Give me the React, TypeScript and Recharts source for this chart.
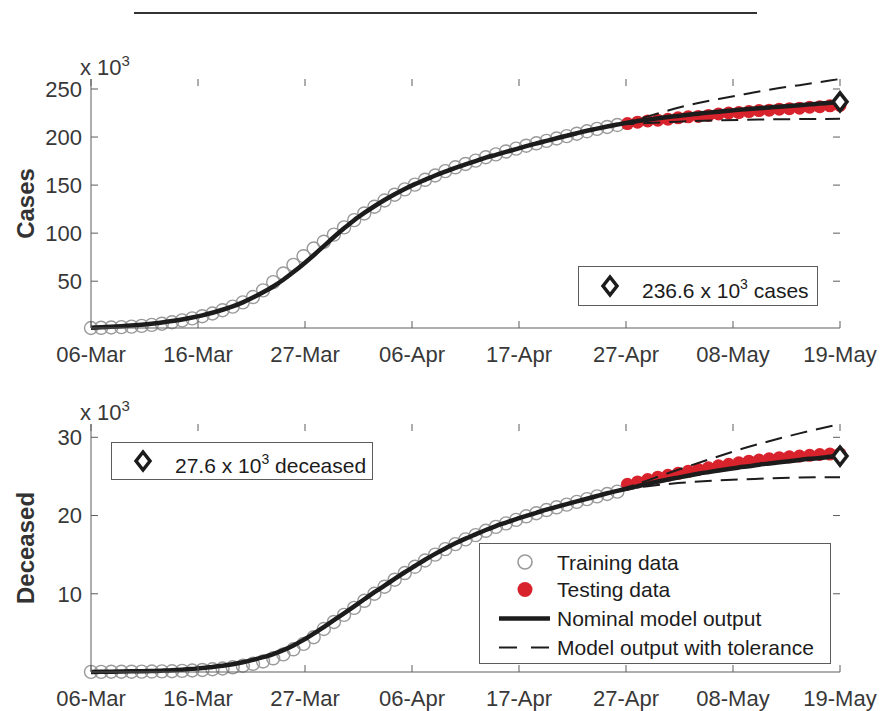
import { ComposedChart, Legend, Line, Scatter, XAxis, YAxis } from "recharts";

// x axis: days since 06-Mar (0 .. 74 = 19-May)
const xTickLabels = ["06-Mar", "16-Mar", "27-Mar", "06-Apr", "17-Apr", "27-Apr", "08-May", "19-May"];
const casesYTicks = [50, 100, 150, 200, 250];
const deathsYTicks = [10, 20, 30];

// cases, x 10^3
const casesTrain = [
  1.3, 1.5, 1.8, 2.2, 2.7, 3.5, 4.5, 5.8, 7.3, 9.2, 11.3, 13.6, 16.4, 19.8, 23.5, 28.0, 33.5, 40.5, 49.0, 58.0,
  67.0, 76.0, 84.0, 91.0, 98.5, 106.0, 113.5, 120.5, 127.5, 134.0, 140.0, 145.5, 150.5, 155.5, 160.0, 164.5,
  168.5, 172.0, 175.5, 179.0, 182.0, 185.0, 188.0, 191.0, 193.5, 196.0, 198.5, 201.0, 203.5, 206.0, 208.5,
  210.5, 212.5
];
const casesTest = [
  214.0, 215.5, 216.8, 217.5, 218.5, 220.0, 221.0, 221.5, 222.5, 224.0, 225.0, 225.5, 226.5, 227.5, 228.0,
  229.0, 229.5, 230.0, 231.0, 231.5, 232.5, 233.0
];
const casesModel = [
  1.6, 2.0, 2.5, 3.1, 3.8, 4.7, 5.8, 7.0, 8.5, 10.2, 12.2, 14.5, 17.2, 20.3, 23.8, 28.0, 33.0, 38.5, 44.5, 51.5,
  59.5, 68.0, 77.0, 86.5, 96.0, 105.0, 113.5, 121.0, 128.0, 134.5, 140.5, 146.0, 151.0, 155.5, 160.0, 164.0,
  168.0, 171.5, 175.0, 178.5, 181.5, 184.5, 187.5, 190.5, 193.3, 196.0, 198.7, 201.4, 204.0, 206.5, 208.8,
  211.0, 213.0, 215.0, 216.6, 218.1, 219.5, 220.8, 222.0, 223.2, 224.3, 225.4, 226.4, 227.4, 228.3, 229.2,
  230.0, 230.8, 231.6, 232.4, 233.2, 234.0, 234.8, 235.7, 236.6
];
const casesUpperDays = [52, 54, 56, 58, 60, 62, 64, 66, 68, 70, 72, 74];
const casesUpper = [213.0, 218.5, 224.5, 230.5, 235.5, 239.5, 243.5, 247.5, 251.0, 254.0, 257.2, 260.4];
const casesLowerDays = [52, 55, 58, 62, 66, 70, 74];
const casesLower = [213.0, 214.6, 216.0, 217.3, 218.2, 218.7, 219.0];
const casesFinal = 236.6;

// deceased, x 10^3
const deathsTrain = [
  0.01, 0.02, 0.03, 0.03, 0.04, 0.05, 0.06, 0.08, 0.1, 0.14, 0.19, 0.26, 0.35, 0.45, 0.6, 0.8, 1.05, 1.35, 1.75,
  2.25, 2.9, 3.6, 4.45, 5.5, 6.4, 7.3, 8.2, 9.1, 10.0, 10.9, 11.8, 12.65, 13.45, 14.25, 15.0, 15.7, 16.35,
  16.95, 17.5, 18.05, 18.55, 19.0, 19.45, 19.9, 20.3, 20.7, 21.05, 21.4, 21.75, 22.1, 22.45, 22.75, 23.05
];
const deathsTest = [
  24.0, 24.3, 24.6, 24.9, 25.15, 25.4, 25.65, 25.9, 26.1, 26.35, 26.55, 26.75, 26.95, 27.1, 27.25, 27.4, 27.5,
  27.6, 27.7, 27.8, 27.85, 27.9
];
const deathsModel = [
  0.0, 0.02, 0.04, 0.06, 0.08, 0.1, 0.13, 0.17, 0.22, 0.3, 0.4, 0.5, 0.65, 0.8, 1.0, 1.25, 1.55, 1.9, 2.3, 2.8,
  3.4, 4.1, 4.9, 5.75, 6.62, 7.5, 8.4, 9.3, 10.2, 11.05, 11.9, 12.75, 13.55, 14.35, 15.1, 15.8, 16.45, 17.05,
  17.6, 18.15, 18.65, 19.1, 19.55, 19.95, 20.35, 20.75, 21.1, 21.45, 21.8, 22.15, 22.5, 22.85, 23.15, 23.45,
  23.75, 24.05, 24.35, 24.6, 24.85, 25.1, 25.35, 25.55, 25.75, 25.95, 26.15, 26.3, 26.5, 26.65, 26.8, 26.95,
  27.1, 27.25, 27.35, 27.5, 27.6
];
const deathsUpperDays = [52, 55, 58, 61, 64, 67, 70, 74];
const deathsUpper = [23.15, 24.5, 25.85, 27.15, 28.4, 29.5, 30.5, 31.7];
const deathsLowerDays = [52, 55, 58, 62, 66, 70, 74];
const deathsLower = [23.15, 23.75, 24.15, 24.5, 24.7, 24.85, 24.9];
const deathsFinal = 27.6;

const LAST_DAY = 74;
const TEST_START = casesTrain.length;

const FONT = "'Liberation Sans', Arial, Helvetica, sans-serif";
const INK = "#1c1c1c";
const AXIS = "#5c5c5c";
const TEXT = "#383838";
const GRAY = "#9a9a9a";
const RED = "#d8232d";

const CHART_W = 881;
const PLOT_LEFT = 91;
const PLOT_RIGHT = 840;
const PLOT_TOP = 79;
const TICK = 7;

const xTicks = xTickLabels.map((_, i) => (LAST_DAY * i) / (xTickLabels.length - 1));

const series = (values: number[], start = 0) => values.map((v, i) => ({ day: start + i, v }));
const pairs = (days: number[], values: number[]) => days.map((d, i) => ({ day: d, v: values[i] }));

function XTick(props: any) {
  const { x, y, index } = props;
  return (
    <g>
      <line x1={x} x2={x} y1={y} y2={y - TICK} stroke={AXIS} />
      <line x1={x} x2={x} y1={PLOT_TOP} y2={PLOT_TOP + TICK} stroke={AXIS} />
      <text x={x} y={y + 34} textAnchor="middle" fontSize={22} fill={TEXT} fontFamily={FONT}>
        {xTickLabels[index]}
      </text>
    </g>
  );
}

function YTick(props: any) {
  const { x, y, payload } = props;
  return (
    <g>
      <line x1={x} x2={x + TICK} y1={y} y2={y} stroke={AXIS} />
      <line x1={PLOT_RIGHT - TICK} x2={PLOT_RIGHT} y1={y} y2={y} stroke={AXIS} />
      <text x={x - 9} y={y} dy="0.36em" textAnchor="end" fontSize={22} fill={TEXT} fontFamily={FONT}>
        {payload.value}
      </text>
    </g>
  );
}

function AxisTitle({ title, mid }: { title: string; mid: number }) {
  return (
    <g fontFamily={FONT}>
      <text
        transform={`translate(25, ${mid}) rotate(-90)`}
        textAnchor="middle"
        dominantBaseline="central"
        fontSize={24}
        fontWeight="bold"
        fill="#333"
      >
        {title}
      </text>
      <text x={80} y={PLOT_TOP - 4} fontSize={22} fill={TEXT}>
        x 10
        <tspan dy={-9} fontSize={15}>
          3
        </tspan>
      </text>
    </g>
  );
}

function ChartTitle() {
  return (
    <text x={(PLOT_LEFT + PLOT_RIGHT) / 2} y={66} textAnchor="middle" fontSize={24} fontWeight="bold" fill="#222" fontFamily={FONT}>
      Spain
    </text>
  );
}

const ring = (p: any) => <circle cx={p.cx} cy={p.cy} r={6.5} fill="none" stroke={GRAY} strokeWidth={1.4} />;
const dot = (p: any) => <circle cx={p.cx} cy={p.cy} r={6.5} fill={RED} stroke="none" />;
const diamondPath = (cx: number, cy: number) => `M${cx},${cy - 9} L${cx + 7},${cy} L${cx},${cy + 9} L${cx - 7},${cy} Z`;
const diamond = (p: any) => <path d={diamondPath(p.cx, p.cy)} fill="#fff" stroke={INK} strokeWidth={3.5} />;

function ValueBox({ left, top, width, height, value, unit }: any) {
  return (
    <div style={{ position: "absolute", left, top, width, height, border: `1px solid ${AXIS}`, background: "#fff", boxSizing: "border-box" }}>
      <svg width={width} height={height} style={{ position: "absolute", left: -1, top: -1 }}>
        <path d={diamondPath(32, height / 2)} fill="#fff" stroke={INK} strokeWidth={3.5} />
        <text x={64} y={height / 2 + 12} fontSize={21} fill={INK} fontFamily={FONT}>
          {value} x 10
          <tspan dy={-9} fontSize={14}>
            3
          </tspan>
          <tspan dy={9} fontSize={21}>
            {" " + unit}
          </tspan>
        </text>
      </svg>
    </div>
  );
}

const legendRows = ["Training data", "Testing data", "Nominal model output", "Model output with tolerance"];

function MainLegend({ left, top }: { left: number; top: number }) {
  const w = 352;
  const h = 121;
  const rows = [19, 46.5, 75.5, 104.5];
  return (
    <div style={{ position: "absolute", left, top, width: w, height: h, border: `1px solid ${AXIS}`, background: "#fff", boxSizing: "border-box" }}>
      <svg width={w} height={h} style={{ position: "absolute", left: -1, top: -1 }}>
        <circle cx={46} cy={rows[0]} r={7} fill="none" stroke={GRAY} strokeWidth={1.6} />
        <circle cx={46} cy={rows[1]} r={7.5} fill={RED} />
        <line x1={20} x2={71} y1={rows[2]} y2={rows[2]} stroke={INK} strokeWidth={4.5} />
        <line x1={20} x2={71} y1={rows[3]} y2={rows[3]} stroke={INK} strokeWidth={2} strokeDasharray="18 14" />
        {legendRows.map((t, i) => (
          <text key={t} x={78} y={rows[i] + 7.5} fontSize={21} fill={INK} fontFamily={FONT}>
            {t}
          </text>
        ))}
      </svg>
    </div>
  );
}

type PanelProps = {
  height: number;
  axisHeight: number;
  yLabel: string;
  domain: [number, number];
  yTicks: number[];
  train: number[];
  test: number[];
  model: number[];
  upper: { day: number; v: number }[];
  lower: { day: number; v: number }[];
  final: number;
  withTitle?: boolean;
  legend: React.ReactNode;
};

function Panel(p: PanelProps) {
  const plotH = p.height - PLOT_TOP - p.axisHeight;
  return (
    <ComposedChart width={CHART_W} height={p.height} margin={{ top: PLOT_TOP, right: CHART_W - PLOT_RIGHT, bottom: 0, left: 0 }}>
      <XAxis
        dataKey="day"
        type="number"
        domain={[0, LAST_DAY]}
        ticks={xTicks}
        interval={0}
        height={p.axisHeight}
        tickSize={0}
        tickMargin={0}
        tickLine={false}
        axisLine={{ stroke: AXIS }}
        tick={<XTick />}
      />
      <XAxis
        xAxisId="top"
        orientation="top"
        type="number"
        domain={[0, LAST_DAY]}
        height={0}
        tick={false}
        tickLine={false}
        axisLine={{ stroke: AXIS }}
        label={p.withTitle ? <ChartTitle /> : undefined}
      />
      <YAxis
        type="number"
        domain={p.domain}
        ticks={p.yTicks}
        interval={0}
        width={PLOT_LEFT}
        tickSize={0}
        tickMargin={0}
        tickLine={false}
        axisLine={{ stroke: AXIS }}
        tick={<YTick />}
        label={<AxisTitle title={p.yLabel} mid={PLOT_TOP + plotH / 2} />}
      />
      <YAxis yAxisId="right" orientation="right" width={0} tick={false} tickLine={false} axisLine={{ stroke: AXIS }} />
      {/* markers sit under the model curves, the end diamond on top */}
      <Scatter data={series(p.train)} dataKey="v" shape={ring} zIndex={300} isAnimationActive={false} />
      <Scatter data={series(p.test, TEST_START)} dataKey="v" shape={dot} zIndex={310} isAnimationActive={false} />
      <Line data={series(p.model)} dataKey="v" type="monotone" stroke={INK} strokeWidth={4.5} dot={false} activeDot={false} zIndex={400} isAnimationActive={false} />
      <Line data={p.upper} dataKey="v" type="monotone" stroke={INK} strokeWidth={2} strokeDasharray="17 9" dot={false} activeDot={false} zIndex={410} isAnimationActive={false} />
      <Line data={p.lower} dataKey="v" type="monotone" stroke={INK} strokeWidth={2} strokeDasharray="17 9" dot={false} activeDot={false} zIndex={410} isAnimationActive={false} />
      <Scatter data={[{ day: LAST_DAY, v: p.final }]} dataKey="v" shape={diamond} zIndex={900} isAnimationActive={false} />
      <Legend
        layout="horizontal"
        verticalAlign="middle"
        align="center"
        content={() => <div style={{ position: "relative" }}>{p.legend}</div>}
        wrapperStyle={{ left: 0, top: 0, width: CHART_W, height: 0 }}
      />
    </ComposedChart>
  );
}

export default function App() {
  return (
    <div style={{ position: "absolute", left: 0, top: 0, width: 881, height: 711, background: "#fff", overflow: "hidden" }}>
      <div style={{ position: "absolute", left: 134, top: 12, width: 623, height: 2, background: "#333" }} />
      <div style={{ position: "absolute", left: 0, top: 0 }}>
        <Panel
          height={370}
          axisHeight={42}
          yLabel="Cases"
          domain={[1.3, 260.4]}
          yTicks={casesYTicks}
          train={casesTrain}
          test={casesTest}
          model={casesModel}
          upper={pairs(casesUpperDays, casesUpper)}
          lower={pairs(casesLowerDays, casesLower)}
          final={casesFinal}
          withTitle
          legend={<ValueBox left={578} top={266} width={240} height={40} value={casesFinal} unit="cases" />}
        />
      </div>
      <div style={{ position: "absolute", left: 0, top: 345 }}>
        <Panel
          height={366}
          axisHeight={39}
          yLabel="Deceased"
          domain={[0, 31.7]}
          yTicks={deathsYTicks}
          train={deathsTrain}
          test={deathsTest}
          model={deathsModel}
          upper={pairs(deathsUpperDays, deathsUpper)}
          lower={pairs(deathsLowerDays, deathsLower)}
          final={deathsFinal}
          legend={
            <>
              <ValueBox left={111} top={97} width={262} height={38} value={deathsFinal} unit="deceased" />
              <MainLegend left={479} top={198} />
            </>
          }
        />
      </div>
    </div>
  );
}
